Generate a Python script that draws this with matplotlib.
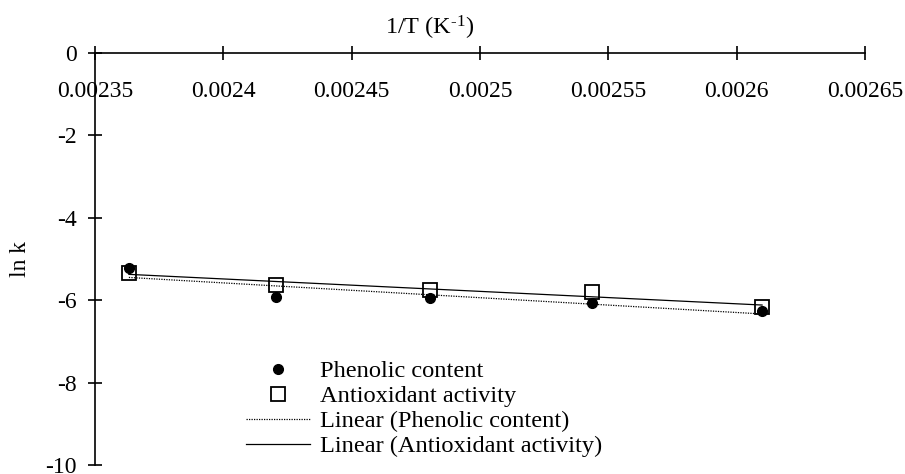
import numpy as np
from matplotlib import pyplot as plt
from matplotlib.ticker import FuncFormatter, MultipleLocator

# 1/T values (K^-1) and ln k for both series
inv_T = [0.0023632, 0.0024204, 0.0024805, 0.0025436, 0.0026099]
phenolic = [-5.21, -5.92, -5.95, -6.06, -6.26]
antioxidant = [-5.33, -5.62, -5.76, -5.80, -6.17]

labels = ['Phenolic content', 'Antioxidant activity',
          'Linear (Phenolic content)', 'Linear (Antioxidant activity)']

plt.rcParams['font.family'] = ['Liberation Serif', 'DejaVu Serif']
plt.rcParams['mathtext.fontset'] = 'custom'
plt.rcParams['mathtext.rm'] = 'Liberation Serif'
plt.rcParams['mathtext.default'] = 'regular'
plt.rcParams['axes.unicode_minus'] = False

fs = 17

fig = plt.figure(figsize=(9.05, 4.74), dpi=100)
ax = fig.add_axes([95 / 905, 9 / 474, 770 / 905, 412 / 474])

# linear trendlines (least squares, like the spreadsheet did)
x = np.array(inv_T)
p_fit = np.polyfit(x, phenolic, 1)
a_fit = np.polyfit(x, antioxidant, 1)
xs = np.array([x.min(), x.max()])

ax.plot(x, phenolic, 'o', color='black', markersize=7, label=labels[0], zorder=4)
ax.plot(x, antioxidant, 's', markerfacecolor='none', markeredgecolor='black',
        markeredgewidth=1.3, markersize=10, label=labels[1], zorder=3)
ax.plot(xs, np.polyval(p_fit, xs), color='black', linestyle=(0, (1, 1)),
        linewidth=0.9, label=labels[2], zorder=2)
ax.plot(xs, np.polyval(a_fit, xs), color='black', linewidth=0.9,
        label=labels[3], zorder=2)

ax.set_xlim(0.00235, 0.00265)
ax.set_ylim(-10, 0)

# axes cross at y = 0 (top) and x = 0.00235 (left)
ax.spines['top'].set_visible(False)
ax.spines['right'].set_visible(False)
ax.spines['bottom'].set_position(('data', 0))
for s in ['left', 'bottom']:
    ax.spines[s].set_linewidth(1.2)

ax.xaxis.set_major_locator(MultipleLocator(0.00005))
ax.yaxis.set_major_locator(MultipleLocator(2))
ax.xaxis.set_major_formatter(FuncFormatter(lambda v, pos: '%g' % round(v, 6)))
ax.yaxis.set_major_formatter(FuncFormatter(lambda v, pos: '%d' % round(v)))
ax.tick_params(axis='both', direction='inout', length=10, width=1.2,
               labelsize=fs, colors='black')
ax.tick_params(axis='x', pad=15.5)
ax.tick_params(axis='y', pad=8)

ax.set_ylabel('ln k', fontsize=fs)
ax.yaxis.set_label_coords(-0.083, 0.5)
fig.text(429.5 / 905, 1 - 27.5 / 474, r'1/T (K$^{\text{-1}}$)', fontsize=17.5,
         ha='center', va='center')

ax.legend(loc='upper left', bbox_to_anchor=(246 / 905, 1 - 360 / 474),
          bbox_transform=fig.transFigure, frameon=False, fontsize=17.6,
          borderpad=0, borderaxespad=0, handlelength=2.6, handletextpad=0.42,
          labelspacing=0.12, numpoints=1)

plt.savefig('out.png', dpi=100)
